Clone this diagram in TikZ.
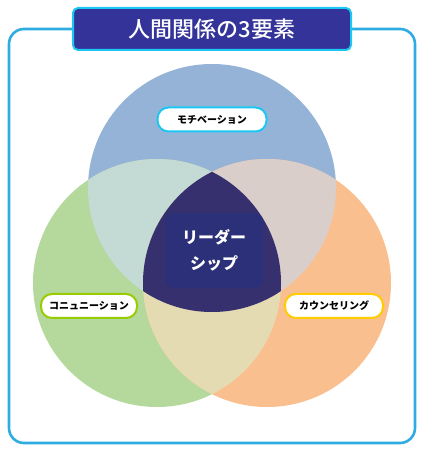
\documentclass[tikz,border=0pt]{standalone}
\usepackage{fontspec}
\setmainfont{Noto Sans CJK JP}
\newfontfamily\titlefont{Noto Sans CJK JP Medium}
\newfontfamily\heavyfont{Noto Sans CJK JP Black}
\definecolor{frameblue}{HTML}{2EACE2}
\definecolor{titlefill}{HTML}{333399}
\definecolor{titleline}{HTML}{1CC7F2}
\definecolor{topblue}{HTML}{95B3D7}
\definecolor{leftgreen}{HTML}{B5D99C}
\definecolor{rightorange}{HTML}{FABF8F}
\definecolor{tlcol}{HTML}{C4DAD4}
\definecolor{trcol}{HTML}{D9CEC9}
\definecolor{lrcol}{HTML}{E5DBB3}
\definecolor{centercol}{HTML}{37306F}
\definecolor{innercol}{HTML}{2C3078}
\definecolor{greenline}{HTML}{99CC00}
\definecolor{yellowline}{HTML}{FFCC00}
\tikzset{
  frame/.style={draw=frameblue, line width=2.6pt, rounded corners=15pt},
  titlebox/.style={draw=titleline, fill=titlefill, line width=2pt, rounded corners=5pt,
    minimum width=278pt, minimum height=42pt, text=white, font=\titlefont\fontsize{22}{26}\selectfont},
  tagbox/.style={fill=white, line width=2pt, rounded corners=11pt, minimum height=24pt,
    inner xsep=8pt, font=\heavyfont\fontsize{10}{12}\selectfont},
  leader/.style={fill=innercol, rounded corners=8pt, minimum width=98pt, minimum height=75pt,
    text=white, align=center, font=\heavyfont\fontsize{16}{26}\selectfont}
}
\begin{document}
\begin{tikzpicture}[x=1pt,y=1pt]
    \useasboundingbox (0,0) rectangle (425,450);
    % frame and title
    \draw[frame] (9,7) rectangle (415,421);
    \node[titlebox] (title) at (212,421) {人間関係の3要素};
    % circles
    \coordinate (top) at (212,262);
    \coordinate (left) at (157,167);
    \coordinate (right) at (267,167);
    \fill[topblue] (top) circle (124);
    \fill[leftgreen] (left) circle (124);
    \fill[rightorange] (right) circle (124);
    % overlaps
    \begin{scope}
        \clip (left) circle (124);
        \fill[tlcol] (top) circle (124);
        \fill[lrcol] (right) circle (124);
    \end{scope}
    \begin{scope}
        \clip (right) circle (124);
        \fill[trcol] (top) circle (124);
    \end{scope}
    \begin{scope}
        \clip (left) circle (124);
        \clip (right) circle (124);
        \fill[centercol] (top) circle (124);
    \end{scope}
    % labels
    \node[leader] (lead) at (214,199.5) {リーダー\\シップ};
    \node[tagbox, draw=titleline, minimum width=109pt] (motiv) at (212,330.5) {モチベーション};
    \node[tagbox, draw=greenline, minimum width=96pt] (comm) at (89,144) {コニュニーション};
    \node[tagbox, draw=yellowline, minimum width=98pt] (couns) at (334,144) {カウンセリング};
\end{tikzpicture}
\end{document}
